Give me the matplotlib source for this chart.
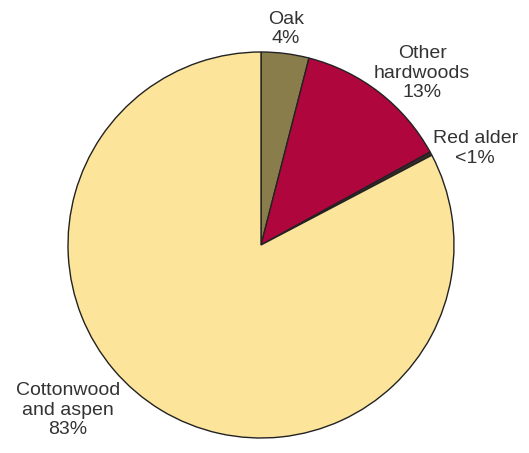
import matplotlib
matplotlib.use("Agg")
import matplotlib.pyplot as plt

categories = ["Oak", "Other hardwoods", "Red alder", "Cottonwood and aspen"]
values = [4.0, 13.0, 0.3, 82.7]
labels = ["Oak\n4%", "Other\nhardwoods\n13%", "Red alder\n<1%", "Cottonwood\nand aspen\n83%"]
colors = ["#8a7d4c", "#b0063e", "#3a2a2a", "#fce49b"]
label_pos = [(0.13, 1.12), (0.835, 0.89), (1.11, 0.50), (-1.0, -0.855)]

plt.rcParams['font.family'] = ['Liberation Sans', 'DejaVu Sans']
fig = plt.figure(figsize=(5.29, 4.53), dpi=100)
ax = fig.add_axes([(261 - 193) / 529, (453 - 245 - 193) / 453, 386 / 529, 386 / 453])
ax.pie(values, colors=colors, startangle=90, counterclock=False, radius=1.0,
       wedgeprops=dict(edgecolor="#222222", linewidth=1.0))
for lab, (x, y) in zip(labels, label_pos):
    ax.text(x, y, lab, ha="center", va="center", fontsize=14, color="#333333",
            linespacing=1.18, clip_on=False)
ax.set_xlim(-1, 1)
ax.set_ylim(-1, 1)
ax.set_aspect("equal")
ax.axis("off")
fig.savefig("out.png", dpi=100)
